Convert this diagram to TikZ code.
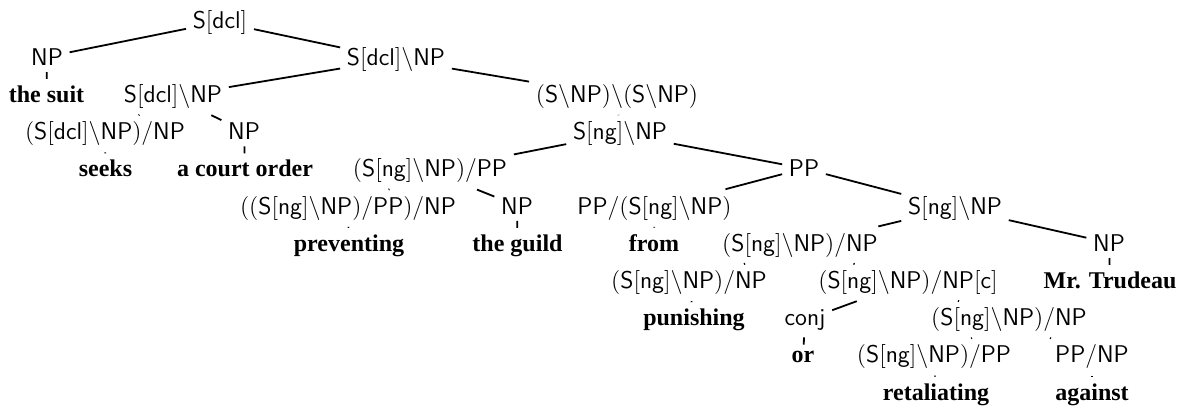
\documentclass[tikz,border=0pt]{standalone}
\usepackage{fontspec}
\newfontfamily\wordfont{Liberation Serif}
\newcommand\C[1]{$\mathsf{#1}$}
\begin{document}
\begin{tikzpicture}[x=0.5pt,y=-0.5pt,
  cat/.style={font=\fontsize{12.1}{14}\selectfont, inner sep=3.2pt, anchor=base},
  word/.style={font=\fontsize{12}{14}\selectfont\wordfont\bfseries, inner sep=3.2pt, anchor=base},
  edge/.style={line width=0.9pt}]
\useasboundingbox (0,0) rectangle (1178,409);
\node[cat] (n0) at (220,28) {\C{S[dcl]}};
\node[cat] (n1) at (47,65.2) {\C{NP}};
\node[cat] (n2) at (396,65.2) {\C{S[dcl]\backslash NP}};
\node[word] (w1) at (46.5,102.4) {the suit};
\node[cat] (n3) at (173,102.4) {\C{S[dcl]\backslash NP}};
\node[cat] (n4) at (617,102.4) {\C{(S\backslash NP)\backslash(S\backslash NP)}};
\node[cat] (n5) at (105,139.6) {\C{(S[dcl]\backslash NP)/NP}};
\node[cat] (n6) at (244,139.6) {\C{NP}};
\node[cat] (n7) at (620,139.6) {\C{S[ng]\backslash NP}};
\node[word] (w2) at (105.5,176.8) {seeks};
\node[word] (w3) at (245,176.8) {a court order};
\node[cat] (n8) at (430,176.8) {\C{(S[ng]\backslash NP)/PP}};
\node[cat] (n9) at (804,176.8) {\C{PP}};
\node[cat] (n10) at (348,214) {\C{((S[ng]\backslash NP)/PP)/NP}};
\node[cat] (n11) at (517,214) {\C{NP}};
\node[cat] (n12) at (654.5,214) {\C{PP/(S[ng]\backslash NP)}};
\node[cat] (n13) at (955,214) {\C{S[ng]\backslash NP}};
\node[word] (w4) at (349,251.2) {preventing};
\node[word] (w5) at (517.5,251.2) {the guild};
\node[word] (w6) at (654,251.2) {from};
\node[cat] (n14) at (800,251.2) {\C{(S[ng]\backslash NP)/NP}};
\node[cat] (n15) at (1109,251.2) {\C{NP}};
\node[cat] (n16) at (689,288.4) {\C{(S[ng]\backslash NP)/NP}};
\node[cat] (n17) at (908,288.4) {\C{(S[ng]\backslash NP)/NP[c]}};
\node[word] (w7) at (1110,288.4) {Mr. Trudeau};
\node[word] (w8) at (694,325.6) {punishing};
\node[cat] (n18) at (805,325.6) {\C{conj}};
\node[cat] (n19) at (1009,325.6) {\C{(S[ng]\backslash NP)/NP}};
\node[word] (w9) at (803,362.8) {or};
\node[cat] (n20) at (934,362.8) {\C{(S[ng]\backslash NP)/PP}};
\node[cat] (n21) at (1092,362.8) {\C{PP/NP}};
\node[word] (w10) at (936,400) {retaliating};
\node[word] (w11) at (1092,400) {against};
\foreach \a/\b in {n0/n1,n0/n2,n1/w1,n2/n3,n2/n4,n3/n5,n3/n6,n5/w2,n6/w3,n4/n7,n7/n8,n7/n9,n8/n10,n8/n11,n10/w4,n11/w5,n9/n12,n9/n13,n12/w6,n13/n14,n13/n15,n15/w7,n14/n16,n14/n17,n16/w8,n17/n18,n17/n19,n18/w9,n19/n20,n19/n21,n20/w10,n21/w11}
  \draw[edge] (\a) -- (\b);
\end{tikzpicture}
\end{document}
